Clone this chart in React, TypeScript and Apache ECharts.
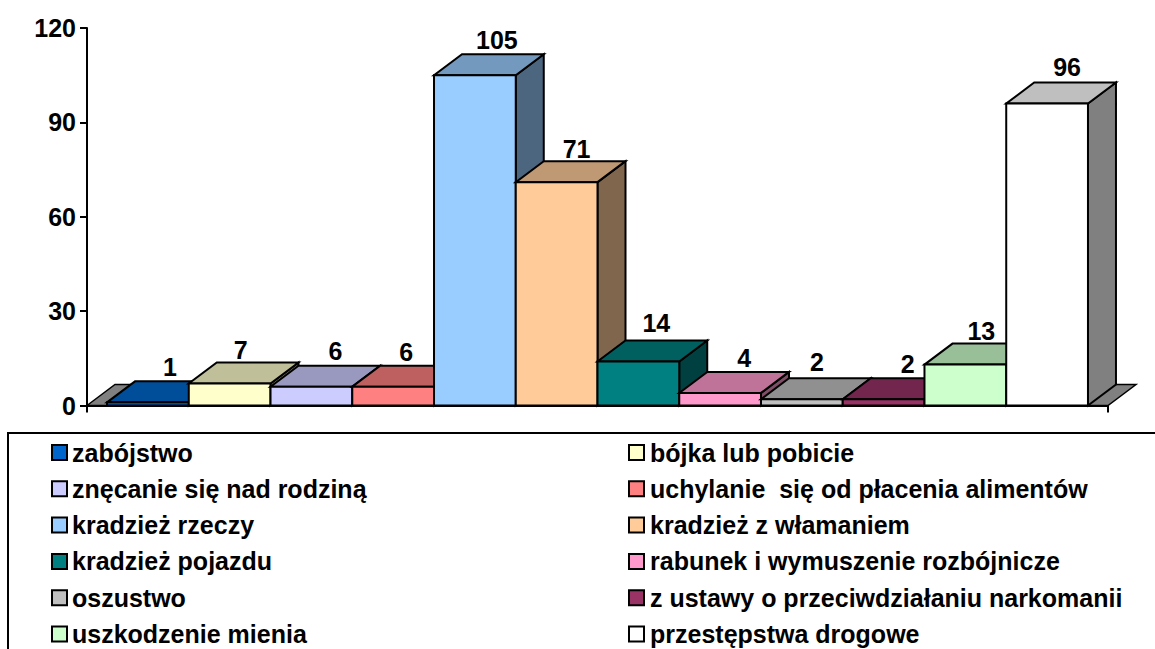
import React, { useEffect, useRef } from "react";
import * as echarts from "echarts";

const names = [
  "zabójstwo", "bójka lub pobicie", "znęcanie się nad rodziną", "uchylanie  się od płacenia alimentów",
  "kradzież rzeczy", "kradzież z włamaniem", "kradzież pojazdu", "rabunek i wymuszenie rozbójnicze",
  "oszustwo", "z ustawy o przeciwdziałaniu narkomanii", "uszkodzenie mienia", "przestępstwa drogowe",
];
const values = [1, 7, 6, 6, 105, 71, 14, 4, 2, 2, 13, 96];
const colors = [
  "#0066CC", "#FFFFCC", "#CCCCFF", "#FF8080", "#99CCFF", "#FFCC99",
  "#008080", "#FF99CC", "#C0C0C0", "#993366", "#CCFFCC", "#FFFFFF",
];
const labelDx = [22, 11, 24, 13, 22, 20, 18, 24, 15, 24, 16, 20];
const labelDy = [-14, -12, -15, -14, -14, -12, -17, -14, -16, -14, -13, -16];

const FONT = "'Liberation Sans', Arial, sans-serif";
const DX = 28;
const DY = -21;
const STROKE = "#000";

function shade(hex: string, f: number) {
  const n = parseInt(hex.slice(1), 16);
  const c = [(n >> 16) & 255, (n >> 8) & 255, n & 255].map((v) => Math.round(v * f));
  return `rgb(${c[0]},${c[1]},${c[2]})`;
}

const xMin = -0.245;
const xMax = 12.245;

export default function App() {
  const ref = useRef<HTMLDivElement>(null);
  useEffect(() => {
    const chart = echarts.init(ref.current!, undefined, { renderer: "svg" });
    const floor = {
      type: "custom",
      silent: true,
      coordinateSystem: "cartesian2d",
      data: [[xMin, xMax]],
      clip: false,
      renderItem: (_p: any, api: any) => {
        const a = api.coord([api.value(0), 0]);
        const b = api.coord([api.value(1), 0]);
        return {
          type: "polygon",
          shape: { points: [a, [a[0] + DX, a[1] + DY], [b[0] + DX, b[1] + DY], b] },
          style: { fill: "#808080", stroke: STROKE, lineWidth: 1.5 },
        };
      },
    };
    const bars = names.map((name, i) => ({
      type: "custom",
      name,
      coordinateSystem: "cartesian2d",
      itemStyle: { color: colors[i], borderColor: "#000", borderWidth: 2 },
      data: [[i, values[i]]],
      clip: false,
      renderItem: (_p: any, api: any) => {
        const idx = api.value(0);
        const v = api.value(1);
        const bl = api.coord([idx, 0]);
        const tl = api.coord([idx, v]);
        const br = api.coord([idx + 1, 0]);
        const tr = api.coord([idx + 1, v]);
        const off = (p: number[]) => [p[0] + DX, p[1] + DY];
        const st = (fill: string) => ({ fill, stroke: STROKE, lineWidth: 2, lineJoin: "miter" });
        return {
          type: "group",
          children: [
            { type: "polygon", shape: { points: [br, tr, off(tr), off(br)] }, style: st(shade(colors[i], 0.5)) },
            { type: "polygon", shape: { points: [tl, tr, off(tr), off(tl)] }, style: st(shade(colors[i], 0.75)) },
            { type: "polygon", shape: { points: [bl, tl, tr, br] }, style: st(colors[i]) },
            {
              type: "text",
              x: (tl[0] + tr[0]) / 2 + labelDx[i],
              y: tl[1] + DY + labelDy[i],
              style: {
                text: String(values[i]),
                font: `bold 25px ${FONT}`,
                fill: "#000",
                align: "center",
                verticalAlign: "middle",
              },
            },
          ],
        };
      },
    }));
    const legendBase = {
      orient: "vertical" as const,
      icon: "rect",
      itemWidth: 15,
      itemHeight: 15,
      itemGap: 9.3,
      top: 439,
      selectedMode: false,
      padding: 0,
    };
    const legendText = (pad: number) => ({
      fontFamily: FONT,
      fontWeight: "bold" as const,
      fontSize: 25,
      lineHeight: 27,
      color: "#000",
      padding: [0, 0, 0, pad],
    });
    chart.setOption({
      animation: false,
      backgroundColor: "#fff",
      grid: { left: 87, right: 47, top: 28, height: 377.5 },
      xAxis: {
        type: "value",
        min: xMin,
        max: xMax,
        splitLine: { show: false },
        axisLine: { show: true, onZero: false, lineStyle: { color: "#000", width: 2 } },
        axisTick: { show: true, customValues: [xMin, xMax], length: 7, lineStyle: { color: "#000", width: 2 } },
        axisLabel: { show: false },
      },
      yAxis: {
        type: "value",
        min: 0,
        max: 120,
        interval: 30,
        splitLine: { show: false },
        axisLine: { show: true, onZero: false, lineStyle: { color: "#000", width: 2 } },
        axisTick: { show: true, length: 7, lineStyle: { color: "#000", width: 2 } },
        axisLabel: { color: "#000", fontFamily: FONT, fontWeight: "bold", fontSize: 25, margin: 11 },
      },
      legend: [
        { ...legendBase, left: 51, textStyle: legendText(0), data: names.filter((_, i) => i % 2 === 0) },
        { ...legendBase, left: 628, textStyle: legendText(1), data: names.filter((_, i) => i % 2 === 1) },
      ],
      graphic: [
        {
          type: "polyline",
          shape: { points: [[8, 649], [8, 433], [1155, 433]] },
          style: { fill: "none", stroke: "#000", lineWidth: 2 },
        },
      ],
      series: [floor, ...bars],
    });
    return () => chart.dispose();
  }, []);
  return <div ref={ref} style={{ position: "fixed", left: 0, top: 0, width: 1155, height: 649 }} />;
}
